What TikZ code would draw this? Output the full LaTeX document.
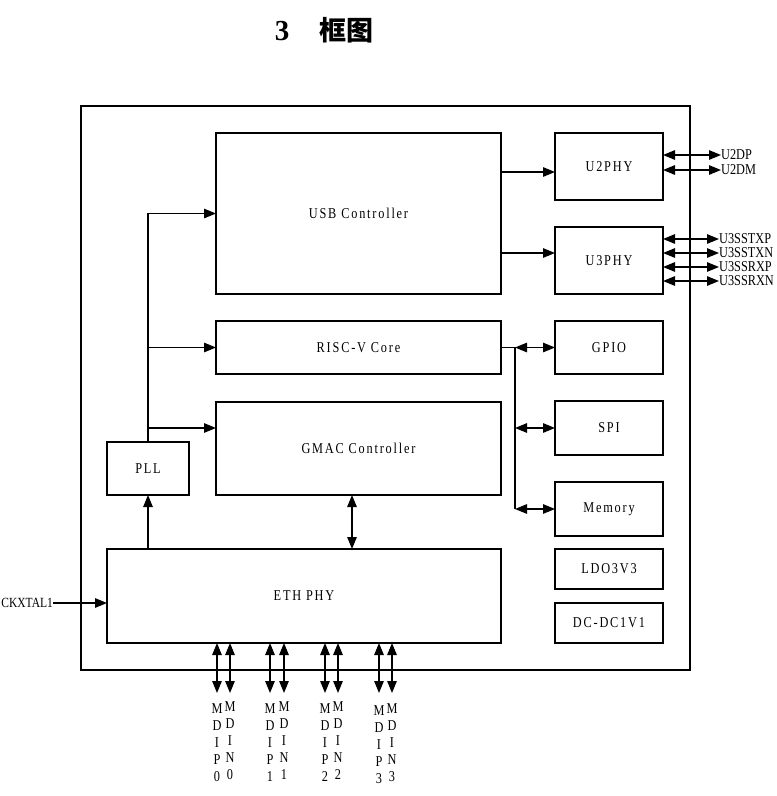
\documentclass[tikz,border=0pt]{standalone}
\usepackage{fontspec}
\usetikzlibrary{arrows.meta,calc}
\setmainfont{Liberation Serif}
\newfontfamily\diag{Liberation Serif}[FakeStretch=0.82,LetterSpace=12]
\newfontfamily\pinf{Liberation Serif}[FakeStretch=0.82]
\newfontfamily\cjk{Noto Sans CJK SC}
\begin{document}
\begin{tikzpicture}[x=1pt,y=-1pt,
  box/.style={draw,line width=1.3pt,inner sep=0pt,outer sep=0pt,font=\diag\fontsize{15}{16}\selectfont},
  arr/.style={line width=1.3pt,-{Triangle[length=12pt,width=9.5pt]}},
  darr/.style={line width=1.3pt,{Triangle[length=12pt,width=9.5pt]}-{Triangle[length=12pt,width=9.5pt]}},
  lab/.style={inner sep=0pt,font=\pinf\fontsize{15}{16}\selectfont},
  vlab/.style={inner sep=0pt,align=center,font=\pinf\fontsize{15}{17}\selectfont}]
\useasboundingbox (0,0) rectangle (777,796);
\fill[white] (0,0) rectangle (777,796);
% title
\node[inner sep=0pt,font=\bfseries\fontsize{29}{32}\selectfont] (t3) at (282,31) {3};
\node[inner sep=0pt,font=\cjk\bfseries\fontsize{27}{30}\selectfont] (ttl) at (346,30) {框图};
% outer
\draw[line width=1.3pt] (81,106) rectangle (690,670);
% boxes
\node[box,minimum width=285pt,minimum height=161pt] (usb) at (358.5,213.5) {USB Controller};
\node[box,minimum width=108pt,minimum height=67pt] (u2) at (609,166.5) {U2PHY};
\node[box,minimum width=108pt,minimum height=67pt] (u3) at (609,260.5) {U3PHY};
\node[box,minimum width=285pt,minimum height=53pt] (risc) at (358.5,347.5) {RISC-V Core};
\node[box,minimum width=108pt,minimum height=53pt] (gpio) at (609,347.5) {GPIO};
\node[box,minimum width=285pt,minimum height=93pt] (gmac) at (358.5,448.5) {GMAC Controller};
\node[box,minimum width=108pt,minimum height=54pt] (spi) at (609,428) {SPI};
\node[box,minimum width=82pt,minimum height=53pt] (pll) at (148,468.5) {PLL};
\node[box,minimum width=108pt,minimum height=54pt] (mem) at (609,509) {Memory};
\node[box,minimum width=394pt,minimum height=94pt] (eth) at (304,596) {ETH PHY};
\node[box,minimum width=108pt,minimum height=40pt] (ldo) at (609,569) {LDO3V3};
\node[box,minimum width=108pt,minimum height=40pt] (dcdc) at (609,623) {DC-DC1V1};
% clock tree
\coordinate (gin) at ([yshift=20.5pt]gmac.west);
\draw[arr] (pll.north) |- (usb.west);
\draw[arr] (pll.north |- risc.west) -- (risc.west);
\draw[arr] (pll.north |- gin) -- (gin);
\draw[arr] (eth.north -| pll.south) -- (pll.south);
% USB to PHYs
\coordinate (u2in) at ([yshift=-5.5pt]u2.west);
\coordinate (u3in) at ([yshift=7.5pt]u3.west);
\draw[arr] (u2in -| usb.east) -- (u2in);
\draw[arr] (u3in -| usb.east) -- (u3in);
% RISC-V bus
\coordinate (bus) at (515,347.5);
\draw[line width=1.3pt] (risc.east) -- (bus) -- (bus |- mem.west);
\draw[darr] (bus) -- (gpio.west);
\draw[darr] (bus |- spi.west) -- (spi.west);
\draw[darr] (bus |- mem.west) -- (mem.west);
% GMAC - ETH
\coordinate (gout) at ([xshift=-6.5pt]gmac.south);
\draw[darr] (gout) -- (gout |- eth.north);
% clock input
\node[lab,anchor=east,font=\pinf\fontsize{14}{16}\selectfont] (ck) at (53,603) {CKXTAL1};
\draw[arr] (ck.east) -- (eth.west |- ck.east);
% U2 pins
\node[lab,anchor=west] (dp) at (721,155) {U2DP};
\node[lab,anchor=west] (dm) at (721,170) {U2DM};
\draw[darr] (u2.east |- dp.west) -- (dp.west);
\draw[darr] (u2.east |- dm.west) -- (dm.west);
% U3 pins
\node[lab,anchor=west] (tp) at (719,239) {U3SSTXP};
\node[lab,anchor=west] (tn) at (719,253) {U3SSTXN};
\node[lab,anchor=west] (rp) at (719,267) {U3SSRXP};
\node[lab,anchor=west] (rn) at (719,281) {U3SSRXN};
\draw[darr] (u3.east |- tp.west) -- (tp.west);
\draw[darr] (u3.east |- tn.west) -- (tn.west);
\draw[darr] (u3.east |- rp.west) -- (rp.west);
\draw[darr] (u3.east |- rn.west) -- (rn.west);
% MDI pins
\node[vlab,anchor=north] (p0) at (217,703) {M\\D\\I\\P\\0};
\node[vlab,anchor=north] (n0) at (230,701) {M\\D\\I\\N\\0};
\node[vlab,anchor=north] (p1) at (270,703) {M\\D\\I\\P\\1};
\node[vlab,anchor=north] (n1) at (284,701) {M\\D\\I\\N\\1};
\node[vlab,anchor=north] (p2) at (325,703) {M\\D\\I\\P\\2};
\node[vlab,anchor=north] (n2) at (338,701) {M\\D\\I\\N\\2};
\node[vlab,anchor=north] (p3) at (379,705) {M\\D\\I\\P\\3};
\node[vlab,anchor=north] (n3) at (392,703) {M\\D\\I\\N\\3};
\foreach \p in {p0,n0,p1,n1,p2,n2,p3,n3}{
  \draw[darr] (eth.south -| \p.north) -- (\p.north |- 0,693);
}
\end{tikzpicture}
\end{document}
